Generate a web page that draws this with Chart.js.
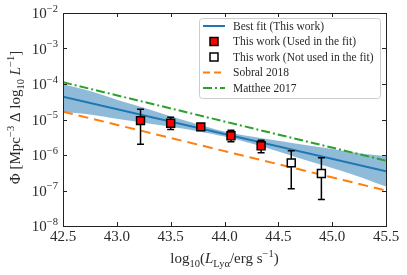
<!DOCTYPE html>
<html>
<head>
<meta charset="utf-8">
<script src="https://cdn.jsdelivr.net/npm/chart.js@4.4.0/dist/chart.umd.min.js"></script>
<style>
  html, body { margin: 0; padding: 0; background: #fff; }
  #wrap { width: 407px; height: 275px; }
</style>
</head>
<body>
<div id="wrap"><canvas id="lf"></canvas></div>
<script>
// luminosity function data
const xTicks = [42.5, 43.0, 43.5, 44.0, 44.5, 45.0, 45.5];
const yTickExps = [-8, -7, -6, -5, -4, -3, -2];

const lumUsed = [43.22, 43.50, 43.78, 44.06, 44.34];
const phiUsed = [9.3e-6, 7.8e-6, 6.2e-6, 3.5e-6, 1.82e-6];
const phiUsedHi = [1.95e-5, 1.15e-5, 7.4e-6, 5.0e-6, 2.6e-6];
const phiUsedLo = [2.0e-6, 5.2e-6, 5.1e-6, 2.35e-6, 1.15e-6];

const lumNotUsed = [44.62, 44.90];
const phiNotUsed = [6.0e-7, 3.0e-7];
const phiNotUsedHi = [1.32e-6, 8.3e-7];
const phiNotUsedLo = [1.12e-7, 5.6e-8];

const fitLum = [42.5, 45.5];
const fitPhi = [4.4e-5, 3.5e-7];

const bandLum = [42.5, 42.75, 43.0, 43.25, 43.5, 43.75, 44.0, 44.25, 44.5, 44.75, 45.0, 45.25, 45.5];
const bandUpper = [9.8e-5, 6.3e-5, 3.6e-5, 2.14e-5, 1.23e-5, 7.4e-6, 4.6e-6, 3.3e-6, 2.5e-6, 1.9e-6, 1.48e-6, 1.12e-6, 9.3e-7];
const bandLower = [1.66e-5, 1.38e-5, 1.05e-5, 8.1e-6, 6.2e-6, 4.7e-6, 3.3e-6, 2.1e-6, 1.26e-6, 7.2e-7, 4.3e-7, 2.45e-7, 1.29e-7];

const sobralLum = [42.5, 45.5];
const sobralPhi = [1.66e-5, 1.0e-7];

const mattheeLum = [42.5, 45.5];
const mattheePhi = [1.12e-4, 6.9e-7];

const FONT = "'Liberation Serif', 'DejaVu Serif', serif";
const BLUE = '#1f77b4', ORANGE = '#ff7f0e', GREEN = '#2ca02c';

function pts(xs, ys) {
    return xs.map((x, i) => ({ x: x, y: ys[i] }));
}

// segments: [text, 'n'|'sup'|'sub', italic]
function segFont(seg, size) {
    var s = seg[1] === 'n' ? size : size * 0.7;
    return (seg[2] ? 'italic ' : '') + s + 'px ' + FONT;
}
function richWidth(ctx, segs, size) {
    var w = 0;
    segs.forEach(function (seg) {
        ctx.font = segFont(seg, size);
        w += ctx.measureText(seg[0]).width;
    });
    return w;
}
function drawRich(ctx, segs, x, y, size) {
    ctx.textAlign = 'left';
    ctx.textBaseline = 'alphabetic';
    segs.forEach(function (seg) {
        ctx.font = segFont(seg, size);
        var dy = seg[1] === 'sup' ? -size * 0.42 : (seg[1] === 'sub' ? size * 0.25 : 0);
        ctx.fillText(seg[0], x, y + dy);
        x += ctx.measureText(seg[0]).width;
    });
}

const axesPlugin = {
    id: 'axesPlugin',
    beforeDatasetDraw(chart, args) {
        var ds = chart.data.datasets[args.index];
        if (!ds.errHi) return;
        var ctx = chart.ctx, xs = chart.scales.x, ys = chart.scales.y;
        ctx.save();
        ctx.strokeStyle = '#000';
        ctx.lineWidth = 1.5;
        ds.data.forEach(function (p, i) {
            var px = xs.getPixelForValue(p.x);
            var top = ys.getPixelForValue(ds.errHi[i]);
            var bot = ys.getPixelForValue(ds.errLo[i]);
            ctx.beginPath();
            ctx.moveTo(px, top); ctx.lineTo(px, bot);
            ctx.moveTo(px - 3.5, top); ctx.lineTo(px + 3.5, top);
            ctx.moveTo(px - 3.5, bot); ctx.lineTo(px + 3.5, bot);
            ctx.stroke();
        });
        ctx.restore();
    },
    afterDraw(chart) {
        var ctx = chart.ctx, a = chart.chartArea;
        var xs = chart.scales.x, ys = chart.scales.y;
        ctx.save();
        // frame
        ctx.strokeStyle = '#222';
        ctx.lineWidth = 1;
        ctx.strokeRect(Math.round(a.left) + 0.5, Math.round(a.top) + 0.5,
            Math.round(a.right - a.left), Math.round(a.bottom - a.top));
        // ticks (inward, all sides)
        ctx.beginPath();
        xTicks.forEach(function (t) {
            var px = Math.round(xs.getPixelForValue(t)) + 0.5;
            ctx.moveTo(px, a.bottom); ctx.lineTo(px, a.bottom - 4);
            ctx.moveTo(px, a.top); ctx.lineTo(px, a.top + 4);
        });
        yTickExps.forEach(function (e) {
            var py = Math.round(ys.getPixelForValue(Math.pow(10, e))) + 0.5;
            ctx.moveTo(a.left, py); ctx.lineTo(a.left + 4, py);
            ctx.moveTo(a.right, py); ctx.lineTo(a.right - 4, py);
        });
        ctx.stroke();

        ctx.fillStyle = '#2a2a2a';
        // x tick labels
        ctx.font = '15px ' + FONT;
        ctx.textAlign = 'center';
        ctx.textBaseline = 'alphabetic';
        xTicks.forEach(function (t) {
            ctx.fillText(t.toFixed(1), xs.getPixelForValue(t), a.bottom + 15);
        });
        // y tick labels 10^e
        yTickExps.forEach(function (e) {
            var segs = [['10', 'n'], ['\u2212' + Math.abs(e), 'sup']];
            var w = richWidth(ctx, segs, 15);
            drawRich(ctx, segs, a.left - 5 - w, ys.getPixelForValue(Math.pow(10, e)) + 5, 15);
        });
        // x title
        var xt = [['log', 'n'], ['10', 'sub'], ['(', 'n'], ['L', 'n', true], ['Ly\u03b1', 'sub'],
                  ['/erg s', 'n'], ['\u22121', 'sup'], [')', 'n']];
        var wx = richWidth(ctx, xt, 15);
        drawRich(ctx, xt, (a.left + a.right) / 2 - wx / 2, 263, 15);
        // y title
        var yt = [['\u03a6 [Mpc', 'n'], ['\u22123', 'sup'], [' \u0394 log', 'n'], ['10', 'sub'],
                  [' ', 'n'], ['L', 'n', true], ['\u22121', 'sup'], [']', 'n']];
        var wy = richWidth(ctx, yt, 15);
        ctx.save();
        ctx.translate(20, (a.top + a.bottom) / 2 - 2);
        ctx.rotate(-Math.PI / 2);
        drawRich(ctx, yt, -wy / 2, 0, 15);
        ctx.restore();

        // legend
        var lx = 199, ly = 18, lw = 181, lh = 80;
        ctx.fillStyle = 'rgba(255,255,255,0.8)';
        ctx.strokeStyle = '#cccccc';
        ctx.lineWidth = 1;
        ctx.beginPath();
        ctx.roundRect(lx + 0.5, ly + 0.5, lw, lh, 3);
        ctx.fill();
        ctx.stroke();
        var rows = [
            { label: 'Best fit (This work)', kind: 'line', color: BLUE, dash: [] },
            { label: 'This work (Used in the fit)', kind: 'box', color: 'red' },
            { label: 'This work (Not used in the fit)', kind: 'box', color: '#fff' },
            { label: 'Sobral 2018', kind: 'line', color: ORANGE, dash: [7, 4] },
            { label: 'Matthee 2017', kind: 'line', color: GREEN, dash: [9, 3, 2, 3] }
        ];
        rows.forEach(function (r, i) {
            var ry = 26 + i * 15.5;
            if (r.kind === 'line') {
                ctx.strokeStyle = r.color;
                ctx.lineWidth = 2;
                ctx.setLineDash(r.dash);
                ctx.beginPath();
                ctx.moveTo(203, ry); ctx.lineTo(225, ry);
                ctx.stroke();
                ctx.setLineDash([]);
            } else {
                ctx.fillStyle = r.color;
                ctx.strokeStyle = '#000';
                ctx.lineWidth = 1.5;
                ctx.fillRect(210, ry - 4, 8, 8);
                ctx.strokeRect(210, ry - 4, 8, 8);
            }
            ctx.fillStyle = '#2a2a2a';
            ctx.font = '11.5px ' + FONT;
            ctx.textAlign = 'left';
            ctx.textBaseline = 'middle';
            ctx.fillText(r.label, 233, ry + 0.5);
        });
        ctx.restore();
    }
};

const ctx = document.getElementById('lf').getContext('2d');
new Chart(ctx, {
    type: 'line',
    data: {
        datasets: [
            {
                type: 'scatter', label: 'This work (Used in the fit)',
                data: pts(lumUsed, phiUsed), errHi: phiUsedHi, errLo: phiUsedLo,
                pointStyle: 'rect', pointRadius: 5.6, backgroundColor: 'red',
                borderColor: '#000', borderWidth: 1.5
            },
            {
                type: 'scatter', label: 'This work (Not used in the fit)',
                data: pts(lumNotUsed, phiNotUsed), errHi: phiNotUsedHi, errLo: phiNotUsedLo,
                pointStyle: 'rect', pointRadius: 5.6, backgroundColor: '#fff',
                borderColor: '#000', borderWidth: 1.5
            },
            {
                label: 'Best fit (This work)', data: pts(fitLum, fitPhi),
                borderColor: BLUE, borderWidth: 2, pointRadius: 0, fill: false
            },
            {
                label: 'Matthee 2017', data: pts(mattheeLum, mattheePhi),
                borderColor: GREEN, borderWidth: 2, borderDash: [9, 3, 2, 3], pointRadius: 0, fill: false
            },
            {
                label: 'Sobral 2018', data: pts(sobralLum, sobralPhi),
                borderColor: ORANGE, borderWidth: 2, borderDash: [10, 6], pointRadius: 0, fill: false
            },
            {
                label: 'band upper', data: pts(bandLum, bandUpper),
                borderWidth: 0, borderColor: 'rgba(0,0,0,0)', pointRadius: 0,
                fill: '+1', backgroundColor: 'rgba(31,119,180,0.5)', tension: 0.3
            },
            {
                label: 'band lower', data: pts(bandLum, bandLower),
                borderWidth: 0, borderColor: 'rgba(0,0,0,0)', pointRadius: 0, fill: false, tension: 0.3
            }
        ]
    },
    options: {
        responsive: true,
        maintainAspectRatio: false,
        animation: false,
        layout: { padding: { left: 63, right: 21, top: 13, bottom: 49 } },
        plugins: { legend: { display: false }, tooltip: { enabled: false } },
        scales: {
            x: { type: 'linear', min: 42.5, max: 45.5, display: false },
            y: { type: 'logarithmic', min: 1e-8, max: 1e-2, display: false }
        }
    },
    plugins: [axesPlugin]
});
</script>
</body>
</html>
